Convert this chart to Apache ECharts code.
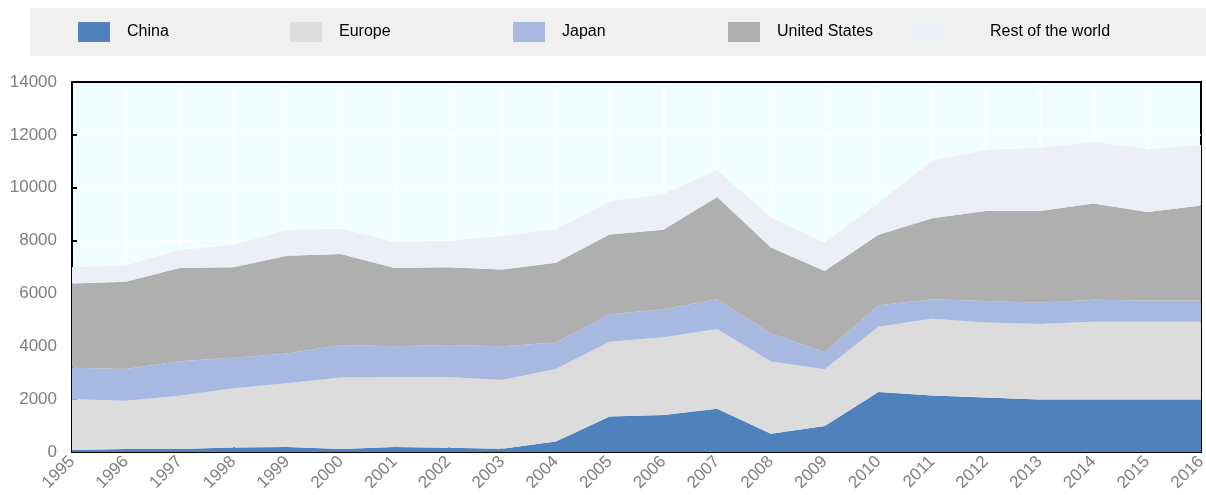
<!DOCTYPE html>
<html>
<head>
<meta charset="utf-8">
<script src="https://cdn.jsdelivr.net/npm/echarts@6/dist/echarts.min.js"></script>
<style>
  html, body { margin: 0; padding: 0; background: #fff; }
  #chart { width: 1206px; height: 495px; }
</style>
</head>
<body>
<div id="chart"></div>
<script>
var years = ["1995","1996","1997","1998","1999","2000","2001","2002","2003","2004","2005",
             "2006","2007","2008","2009","2010","2011","2012","2013","2014","2015","2016"];

var china  = [75,110,110,175,190,110,190,165,125,400,1340,1400,1640,690,980,2270,2140,2060,1990,1990,1990,1990];
var europe = [1925,1830,2020,2235,2410,2710,2650,2675,2595,2740,2830,2940,3010,2730,2150,2470,2900,2840,2850,2940,2940,2940];
var japan  = [1190,1200,1300,1160,1130,1230,1160,1210,1280,1000,1040,1060,1130,1060,640,810,740,810,810,830,800,800];
var usa    = [3190,3300,3530,3420,3700,3440,2960,2940,2910,3020,3020,3010,3870,3260,3080,2670,3060,3410,3470,3640,3350,3600];
var rest   = [610,620,680,840,970,960,990,990,1260,1270,1240,1350,1020,1130,1070,1190,2180,2310,2390,2340,2380,2290];

var names  = ["China", "Europe", "Japan", "United States", "Rest of the world"];
var colors = ["#4f81bd", "#dcdcdc", "#a7b8e1", "#afafaf", "#eceff6"];
var values = [china, europe, japan, usa, rest];

var font = "'Liberation Sans', Arial, sans-serif";

var chart = echarts.init(document.getElementById("chart"));

// one legend per item so each sits where the original has it
var legendLeft = [78, 290, 513, 728, 913];
var legendPad  = [12, 12, 12, 12, 40];
var legends = names.map(function (n, i) {
  return {
    data: [n],
    left: legendLeft[i],
    top: 22,
    padding: 0,
    itemWidth: 32,
    itemHeight: 20,
    icon: "rect",
    selectedMode: false,
    textStyle: { fontFamily: font, fontSize: 16, color: "#000", padding: [2, 0, 0, legendPad[i]] }
  };
});

var series = names.map(function (n, i) {
  return {
    name: n,
    type: "line",
    stack: "total",
    symbol: "none",
    lineStyle: { width: 0 },
    itemStyle: { color: colors[i] },
    areaStyle: { color: colors[i], opacity: 1 },
    data: values[i]
  };
});

var option = {
  animation: false,
  graphic: [{
    type: "rect",
    z: -10,
    shape: { x: 30, y: 8, width: 1176, height: 48 },
    style: { fill: "#f0f0f0" }
  }],
  legend: legends,
  grid: {
    left: 72, right: 5, top: 82, bottom: 43,
    outerBoundsMode: "none",
    show: true,
    backgroundColor: "#f1feff",
    borderColor: "#000",
    borderWidth: 2
  },
  xAxis: [{
    type: "category",
    data: years,
    boundaryGap: false,
    axisLine: { lineStyle: { color: "#000", width: 2 } },
    axisTick: { inside: true, length: 5, lineStyle: { color: "#000", width: 2 } },
    axisLabel: { rotate: 45, color: "#7f7f7f", fontFamily: font, fontSize: 17, margin: 7 },
    splitLine: {
      show: true,
      interval: function (i) { return i > 0 && i < years.length - 1; },
      lineStyle: { color: "#fff", width: 1.5 }
    }
  }, {
    // top frame line
    type: "category",
    position: "top",
    data: years,
    boundaryGap: false,
    axisLine: { show: true, lineStyle: { color: "#000", width: 2 } },
    axisTick: { show: false },
    axisLabel: { show: false },
    splitLine: { show: false }
  }],
  yAxis: {
    type: "value",
    min: 0,
    max: 14000,
    interval: 2000,
    axisLine: { show: true, lineStyle: { color: "#000", width: 2 } },
    axisTick: { show: true, inside: true, length: 5, lineStyle: { color: "#000", width: 2 } },
    axisLabel: {
      color: "#7f7f7f", fontFamily: font, fontSize: 17, margin: 15,
      formatter: function (v) { return String(v); }
    },
    splitLine: { show: true, lineStyle: { color: "#fff", width: 1.5 } }
  },
  series: series
};

chart.setOption(option);
</script>
</body>
</html>
